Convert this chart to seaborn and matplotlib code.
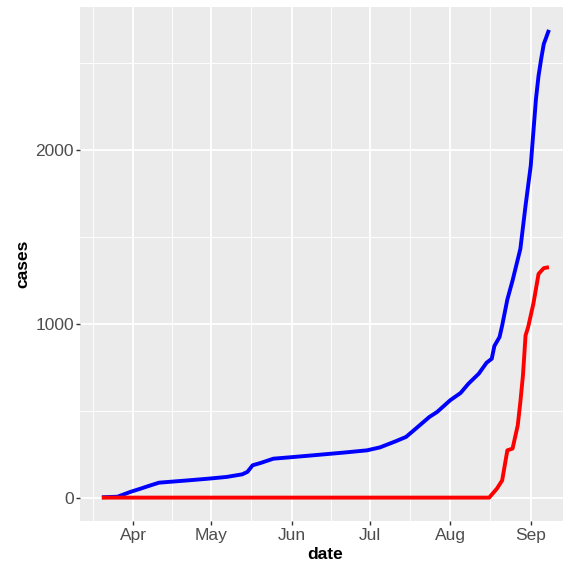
import numpy as np
import pandas as pd
import matplotlib
matplotlib.use("Agg")
import matplotlib.pyplot as plt
import matplotlib.dates as mdates
import matplotlib.ticker as mticker
import seaborn as sns

# values
blue_dates = ["2020-03-20", "2020-03-26", "2020-03-31", "2020-04-04", "2020-04-07",
              "2020-04-11", "2020-04-22", "2020-04-30", "2020-05-07", "2020-05-13",
              "2020-05-15", "2020-05-17", "2020-05-20", "2020-05-25", "2020-06-02",
              "2020-06-12", "2020-06-21", "2020-06-30", "2020-07-05", "2020-07-11",
              "2020-07-15", "2020-07-18", "2020-07-24", "2020-07-27", "2020-08-01",
              "2020-08-05", "2020-08-08", "2020-08-12", "2020-08-15", "2020-08-17",
              "2020-08-18", "2020-08-20", "2020-08-21", "2020-08-23", "2020-08-25",
              "2020-08-28", "2020-08-30", "2020-09-01", "2020-09-02", "2020-09-03",
              "2020-09-04", "2020-09-05", "2020-09-06", "2020-09-08"]
blue_cases = [2, 5, 33, 52, 67,
              86, 99, 109, 119, 134,
              148, 186, 199, 224, 234,
              247, 259, 272, 289, 324,
              349, 387, 464, 493, 560,
              602, 655, 713, 776, 799,
              872, 924, 990, 1140, 1249,
              1431, 1680, 1910, 2102, 2293,
              2427, 2523, 2609, 2691]

red_dates = ["2020-03-20", "2020-08-16", "2020-08-19", "2020-08-21", "2020-08-23",
             "2020-08-25", "2020-08-27", "2020-08-28", "2020-08-29", "2020-08-30",
             "2020-08-31", "2020-09-02", "2020-09-04", "2020-09-06", "2020-09-08"]
red_cases = [0, 0, 52, 99, 272,
             282, 416, 550, 703, 933,
             981, 1115, 1287, 1320, 1326]

sns.set_theme(style="darkgrid", rc={"axes.facecolor": "#EBEBEB", "grid.color": "white"})
plt.rcParams['font.family'] = ['Liberation Sans', 'DejaVu Sans']

blue = pd.DataFrame({"date": pd.to_datetime(blue_dates), "cases": blue_cases})
red = pd.DataFrame({"date": pd.to_datetime(red_dates), "cases": red_cases})

fig = plt.figure(figsize=(5.63, 5.65), dpi=100)
# panel runs past the right edge, like the cropped original
ax = fig.add_axes([79.5 / 563, 44 / 565, 491.8 / 563, 514.5 / 565])

sns.lineplot(data=blue, x="date", y="cases", color="blue", linewidth=2.8,
             solid_capstyle="butt", ax=ax)
sns.lineplot(data=red, x="date", y="cases", color="red", linewidth=2.8,
             solid_capstyle="butt", ax=ax)

# ggplot-like 5% expansion
lo, hi = blue["date"].min(), blue["date"].max()
pad = (hi - lo) * 0.05
ax.set_xlim(lo - pad, hi + pad)
ymax = max(blue["cases"].max(), red["cases"].max())
ax.set_ylim(-0.05 * ymax, 1.05 * ymax)

months = pd.date_range("2020-03-01", "2020-10-01", freq="MS")
mids = months[:-1] + (months[1:] - months[:-1]) / 2
ax.xaxis.set_major_locator(mdates.MonthLocator())
ax.xaxis.set_major_formatter(mdates.DateFormatter("%b"))
ax.xaxis.set_minor_locator(mticker.FixedLocator(mdates.date2num(mids)))
ax.yaxis.set_major_locator(mticker.FixedLocator([0, 1000, 2000]))
ax.yaxis.set_minor_locator(mticker.FixedLocator([500, 1500, 2500]))

ax.grid(which="major", color="white", linewidth=1.3)
ax.grid(which="minor", color="white", linewidth=0.65)
ax.tick_params(which="major", length=3, width=1.0, color="#333333",
               labelsize=12.5, labelcolor="#4D4D4D", pad=2, bottom=True, left=True)
ax.tick_params(axis="y", pad=1)
ax.tick_params(which="minor", length=0)
for s in ax.spines.values():
    s.set_visible(False)

ax.set_xlabel("date", fontsize=12.5, fontweight="bold", color="black", va="center")
ax.set_ylabel("cases", fontsize=12.5, fontweight="bold", color="black", va="center")
ax.xaxis.set_label_coords(0.5, -0.066)
ax.yaxis.set_label_coords(-0.115, 0.5)

fig.savefig("out.png", dpi=100)
